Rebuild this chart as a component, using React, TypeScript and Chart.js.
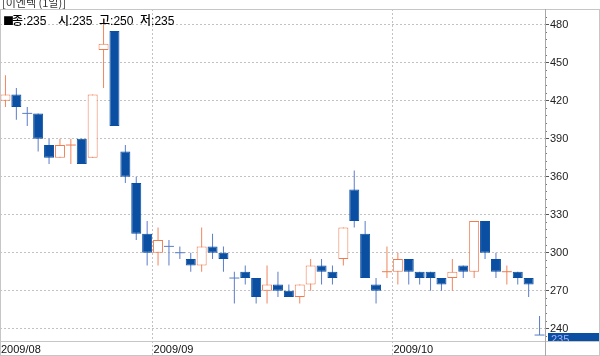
import React, { useEffect, useRef } from 'react';
import { Chart, registerables } from 'chart.js';

Chart.register(...registerables);

// ---- data ----
const TITLE = '[이엔텍 (1일)]';
const LEGEND_NAMES = ['종', '시', '고', '저'];
const MONTH_LABELS = ['2009/08', '2009/09', '2009/10'];
const MONTH_START = [0, 14, 36];
const OPEN = [
  420, 425, 410, 410, 385, 375, 385, 390, 375, 460,
  475, 380, 355, 315, 300, 305, 300, 295, 290, 305,
  300, 280, 285, 280, 270, 275, 270, 265, 275, 290,
  285, 295, 350, 315, 275, 285, 285, 295, 285, 285,
  280, 280, 290, 285, 325, 295, 285, 285, 280, 235,
];
const HIGH = [
  440, 430, 415, 410, 390, 390, 390, 390, 425, 485,
  475, 385, 360, 325, 320, 310, 305, 300, 320, 315,
  305, 285, 290, 280, 290, 285, 275, 275, 295, 295,
  290, 320, 365, 325, 280, 305, 300, 295, 285, 285,
  280, 295, 290, 325, 325, 300, 290, 285, 280, 250,
];
const LOW = [
  415, 405, 400, 380, 370, 375, 370, 370, 375, 430,
  400, 355, 310, 290, 290, 290, 295, 285, 285, 295,
  285, 260, 275, 260, 260, 265, 265, 260, 270, 275,
  275, 290, 320, 280, 260, 280, 275, 275, 275, 270,
  270, 270, 280, 280, 295, 280, 275, 275, 265, 235,
];
const CLOSE = [
  425, 415, 410, 390, 375, 385, 385, 370, 425, 465,
  400, 360, 315, 300, 310, 305, 300, 290, 305, 300,
  295, 280, 280, 265, 275, 270, 265, 275, 290, 285,
  280, 320, 325, 280, 270, 285, 295, 285, 280, 280,
  275, 285, 285, 325, 300, 285, 285, 280, 275, 235,
];
const Y_TICKS = [240, 270, 300, 330, 360, 390, 420, 450, 480];
const Y_MINOR_STEP = 6;
const Y_MIN = 230.3;
const Y_MAX = 492.4;

// ---- styles ----
const BLUE = '#0b4fa3';
const BLUE_WICK = '#5b7dc8';
const ORANGE = '#ef7b4f';
const ORANGE_WICK = '#f0865e';
const GRID = '#c2c2c2';
const FRAME = '#c6c6c6';
const NUM_FONT = 'Liberation Sans, Arial, sans-serif';
const KR_FONT = '"Noto Sans CJK KR", "Noto Sans", sans-serif';

export default function App() {
  const ref = useRef<HTMLCanvasElement>(null);

  useEffect(() => {
    if (!ref.current) return;
    const idx = CLOSE.map((_, i) => i);
    const isDoji = idx.map((i) => CLOSE[i] === OPEN[i]);
    const isUp = idx.map((i) =>
      isDoji[i] ? i === 0 || CLOSE[i] >= CLOSE[i - 1] : CLOSE[i] > OPEN[i]
    );
    const wickData = idx.map((i) => ({ x: i, y: [LOW[i], HIGH[i]] }));
    const bodyData = idx.map((i) => ({ x: i, y: isDoji[i] ? null : [OPEN[i], CLOSE[i]] }));
    const dojiData = idx.map((i) => ({ x: i, y: isDoji[i] ? CLOSE[i] : null }));

    const last = CLOSE.length - 1;

    const decor = {
      id: 'decor',
      afterDraw(chart: any) {
        const { ctx, chartArea: ca, width: W, height: H } = chart;
        // current price box
        const yp = chart.scales.y.getPixelForValue(CLOSE[last]);
        const bx = ca.right + 3;
        const by = Math.round(yp - 2);
        ctx.save();
        ctx.fillStyle = BLUE;
        ctx.fillRect(bx, by, W - bx - 1, ca.bottom - by);
        ctx.beginPath();
        ctx.rect(bx, by, W - bx - 1, ca.bottom - by);
        ctx.clip();
        ctx.fillStyle = '#a7aeff';
        ctx.font = `11px ${NUM_FONT}`;
        ctx.textBaseline = 'middle';
        ctx.fillText(String(CLOSE[last]), bx + 3, yp + 5);
        ctx.restore();

        // frame
        ctx.save();
        ctx.lineWidth = 1;
        ctx.strokeStyle = FRAME;
        const hl = (y: number) => {
          ctx.beginPath();
          ctx.moveTo(0, y);
          ctx.lineTo(W, y);
          ctx.stroke();
        };
        const vl = (x: number, c: string) => {
          ctx.strokeStyle = c;
          ctx.beginPath();
          ctx.moveTo(x, ca.top);
          ctx.lineTo(x, H);
          ctx.stroke();
        };
        hl(ca.top + 0.5);
        hl(ca.bottom + 0.5);
        hl(H - 0.5);
        vl(0.5, FRAME);
        vl(W - 0.5, FRAME);
        vl(ca.right + 0.5, '#a8a8a8');
        ctx.restore();
      },
    };

    const chart = new Chart(ref.current, {
      type: 'bar',
      data: {
        datasets: [
          {
            type: 'bar',
            data: wickData as any,
            backgroundColor: idx.map((i) => (isUp[i] ? ORANGE_WICK : BLUE_WICK)),
            borderWidth: 0,
            barThickness: 1,
            grouped: false,
            inflateAmount: 0,
            order: 2,
          } as any,
          {
            type: 'bar',
            data: bodyData as any,
            backgroundColor: idx.map((i) => (isUp[i] ? '#ffffff' : BLUE)),
            borderColor: idx.map((i) => (isUp[i] ? ORANGE : BLUE)),
            borderWidth: 1,
            borderSkipped: false,
            barThickness: 10,
            grouped: false,
            inflateAmount: 0,
            order: 1,
          } as any,
          {
            type: 'scatter',
            data: dojiData as any,
            pointStyle: 'line',
            pointRadius: 5,
            pointBorderWidth: 1,
            pointBorderColor: idx.map((i) => (isUp[i] ? ORANGE : BLUE_WICK)),
            showLine: false,
            order: 0,
          } as any,
        ],
      },
      options: {
        animation: false,
        responsive: false,
        maintainAspectRatio: false,
        events: [],
        layout: { autoPadding: false, padding: { top: 9, left: 0, right: 0, bottom: 0 } },
        plugins: {
          legend: { display: false },
          tooltip: { enabled: false },
          title: { display: false },
        },
        scales: {
          x: {
            type: 'linear',
            position: 'bottom',
            min: -0.5,
            max: 49.5,
            offset: false,
            afterBuildTicks: (s: any) => {
              s.ticks = MONTH_START.map((v) => ({ value: v - 0.5 }));
            },
            afterFit: (s: any) => {
              s.height = 15;
              s.paddingLeft = 0;
              s.paddingRight = 0;
            },
            ticks: {
              autoSkip: false,
              maxRotation: 0,
              minRotation: 0,
              align: 'start',
              labelOffset: 1,
              padding: -13,
              color: '#111',
              font: { family: NUM_FONT, size: 11 },
              callback: (_v: any, i: number) => MONTH_LABELS[i],
            },
            grid: {
              offset: false,
              color: GRID,
              tickColor: GRID,
              tickLength: 15,
              tickBorderDash: () => [2, 2],
            },
            border: { display: false, dash: [2, 2] },
          },
          y: {
            type: 'linear',
            position: 'right',
            min: Y_MIN,
            max: Y_MAX,
            afterBuildTicks: (s: any) => {
              const t: any[] = [];
              for (let v = Y_TICKS[0] - Y_MINOR_STEP; v <= Y_MAX; v += Y_MINOR_STEP) t.push({ value: v });
              s.ticks = t;
            },
            afterFit: (s: any) => {
              s.width = 55;
              s.paddingTop = 0;
              s.paddingBottom = 0;
            },
            ticks: {
              autoSkip: false,
              padding: 1,
              color: '#222',
              font: { family: NUM_FONT, size: 11 },
              callback: (v: any) => (Y_TICKS.includes(v) ? String(v) : ''),
            },
            grid: {
              offset: false,
              color: (c: any) => (c.tick && Y_TICKS.includes(c.tick.value) ? GRID : 'rgba(0,0,0,0)'),
              tickColor: (c: any) => (c.tick && Y_TICKS.includes(c.tick.value) ? '#555' : '#777'),
              tickLength: 4,
              tickBorderDash: (c: any) => (c.tick && Y_TICKS.includes(c.tick.value) ? [] : [2, 10]),
            },
            border: { display: false, dash: [2, 2] },
          },
        },
      } as any,
      plugins: [decor],
    });
    return () => chart.destroy();
  }, []);

  const lastI = CLOSE.length - 1;
  const legendVals = [CLOSE[lastI], OPEN[lastI], HIGH[lastI], LOW[lastI]];
  const legendX = [12, 58, 99, 140];

  return (
    <div
      style={{
        position: 'absolute',
        left: 0,
        top: 0,
        width: 600,
        height: 356,
        background: '#fff',
        overflow: 'hidden',
      }}
    >
      <canvas ref={ref} width={600} height={356} style={{ display: 'block', width: 600, height: 356 }} />
      <div
        style={{
          position: 'absolute',
          left: 2,
          top: 0,
          height: 9,
          width: 200,
          overflow: 'hidden',
        }}
      >
        <div
          style={{
            position: 'absolute',
            left: 0,
            top: -4,
            font: `11px ${KR_FONT}`,
            lineHeight: '12px',
            color: '#333',
            whiteSpace: 'nowrap',
          }}
        >
          {TITLE}
        </div>
      </div>
      <div
        style={{
          position: 'absolute',
          left: 3,
          top: 14,
          font: `11px ${KR_FONT}`,
          lineHeight: '12px',
          color: '#000',
        }}
      >
        ■
      </div>
      {LEGEND_NAMES.map((n, i) => (
        <div
          key={n}
          style={{
            position: 'absolute',
            left: legendX[i],
            top: 14,
            font: `500 12px ${KR_FONT}`,
            lineHeight: '12px',
            color: '#000',
            whiteSpace: 'nowrap',
          }}
        >
          {n}
          <span style={{ fontFamily: NUM_FONT, fontWeight: 400 }}>:{legendVals[i]}</span>
        </div>
      ))}
    </div>
  );
}
